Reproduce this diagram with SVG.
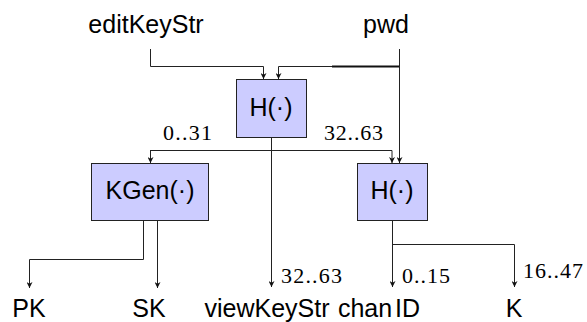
<svg xmlns="http://www.w3.org/2000/svg" width="587" height="322" viewBox="0 0 587 322">
<defs>
<marker id="arr" viewBox="0 0 10 10" refX="10" refY="5" markerWidth="6" markerHeight="6" markerUnits="userSpaceOnUse" orient="auto">
<path d="M0,0 L10,5 L0,10 L3,5 z" fill="#111"/>
</marker>
<style>
.box{fill:#ccccff;stroke:#222;stroke-width:1}
.lbl{font-family:"Liberation Sans",Arial,sans-serif;font-size:25px;fill:#000;text-anchor:middle}
.num{font-family:"Liberation Serif",serif;font-size:22px;fill:#000}
.ln{fill:none;stroke:#111;stroke-width:2}
.ar{fill:none;stroke:#222;stroke-width:1;marker-end:url(#arr)}
</style>
</defs>
<rect width="587" height="322" fill="#fff"/>
<g id="connectors">
<path class="ar" d="M150.5,49 V66.5 H263.5 V79"/>
<path class="ar" d="M399.5,49 V66.5 H278.5 V79"/>
<path class="ln" d="M332,66.5 H399.5"/>
<path class="ar" d="M399.5,66 V163"/>
<path class="ar" d="M150.5,150.5 H392 V163"/>
<path class="ar" d="M150.5,150 V163"/>
<path class="ar" d="M271.5,137 V287"/>
<path class="ar" d="M143.5,221 V259.5 H29.5 V288"/>
<path class="ar" d="M157.5,221 V288"/>
<path class="ar" d="M392.5,221 V287"/>
<path class="ar" d="M392.5,244.5 H514.5 V287"/>
</g>
<g id="editKeyStr"><text class="lbl" x="146" y="33">editKeyStr</text></g>
<g id="pwd"><text class="lbl" x="386" y="33">pwd</text></g>
<g id="H1"><rect class="box" x="236.5" y="79.5" width="70" height="58"/><text class="lbl" x="271" y="116">H(·)</text></g>
<g id="KGen"><rect class="box" x="91.5" y="163.5" width="117" height="57"/><text class="lbl" x="150" y="199">KGen(·)</text></g>
<g id="H2"><rect class="box" x="357.5" y="163.5" width="70" height="57"/><text class="lbl" x="392" y="199">H(·)</text></g>
<g id="labels">
<text class="num" x="163" y="140" textLength="49" lengthAdjust="spacing">0..31</text>
<text class="num" x="324" y="140" textLength="59" lengthAdjust="spacing">32..63</text>
<text class="num" x="281" y="283" textLength="61" lengthAdjust="spacing">32..63</text>
<text class="num" x="402" y="283" textLength="48" lengthAdjust="spacing">0..15</text>
<text class="num" x="523" y="278" textLength="60" lengthAdjust="spacing">16..47</text>
</g>
<g id="PK"><text class="lbl" x="29" y="317">PK</text></g>
<g id="SK"><text class="lbl" x="149" y="317">SK</text></g>
<g id="viewKeyStr"><text class="lbl" x="267" y="317">viewKeyStr</text></g>
<g id="chanID"><text class="lbl" x="379" y="317">chan<tspan dx="3">ID</tspan></text></g>
<g id="K"><text class="lbl" x="514" y="317">K</text></g>
</svg>
